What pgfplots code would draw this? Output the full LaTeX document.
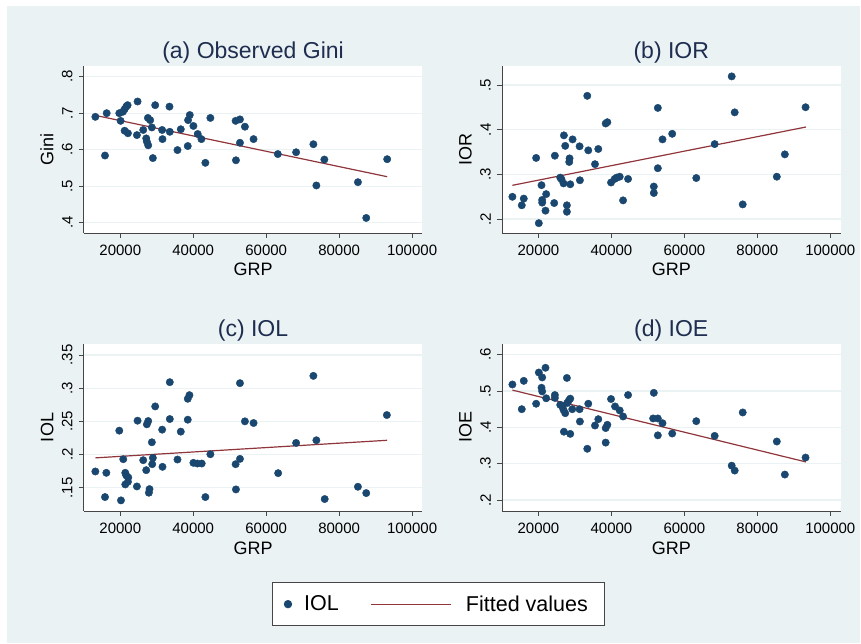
\documentclass[border=0pt]{standalone}
\usepackage{fontspec}
\setmainfont{Liberation Sans}
\usepackage{pgfplots}
\pgfplotsset{compat=1.18}
\definecolor{bg}{RGB}{234,242,243}
\definecolor{gridc}{RGB}{234,242,243}
\definecolor{navy}{RGB}{26,71,111}
\definecolor{maroon}{RGB}{144,53,59}
\definecolor{axc}{RGB}{70,70,70}
\definecolor{titc}{RGB}{30,45,80}
\pgfplotsset{
  panel/.style={
    scale only axis, width=338.5pt, height=167pt,
    xmin=10000, xmax=102800,
    axis x line=bottom, axis y line=left,
    axis line style={-, axc, line width=0.9pt},
    axis background/.style={fill=white},
    tick align=outside, major tick length=5pt,
    tick style={axc, line width=0.9pt},
    xtick={20000,40000,60000,80000,100000},
    xticklabels={20000,40000,60000,80000,100000},
    scaled x ticks=false, scaled y ticks=false,
    ymajorgrids, major grid style={gridc, line width=1.3pt},
    ticklabel style={font=\fontsize{15}{15}\selectfont, text=black},
    xticklabel style={anchor=north, inner sep=0pt},
    xticklabel shift=6.7pt,
    yticklabel style={rotate=90, anchor=south, inner sep=0pt},
    yticklabel shift=6pt,
    xlabel={GRP},
    label style={font=\fontsize{18}{18}\selectfont, text=black},
    xlabel style={at={(axis description cs:0.5,-0.2575)}, anchor=base, inner sep=0pt},
    ylabel style={at={(axis description cs:-0.0901,0.5)}, anchor=base, inner sep=0pt},
    title style={at={(axis description cs:0.5,1.0102)}, anchor=base, inner sep=0pt, font=\fontsize{23}{23}\selectfont, text=titc},
  },
  pts/.style={only marks, mark=*, mark size=3.7pt, draw=navy, fill=navy, mark options={draw=navy, fill=navy}},
  fit/.style={no marks, maroon, line width=1.2pt},
}
\begin{document}
\begin{tikzpicture}
\useasboundingbox (0,0) rectangle (861pt,644pt);
\fill[bg] (7pt,1pt) rectangle (860pt,638pt);

% (a) Observed Gini
\begin{axis}[panel, at={(83.8pt,411pt)}, anchor=south west,
  title={(a) Observed Gini}, ylabel={Gini},
  ymin=0.3718, ymax=0.8293,
  ytick={0.4,0.5,0.6,0.7,0.8}, yticklabels={.4,.5,.6,.7,.8}]
\addplot[pts] coordinates {
(13170,0.690) (15810,0.584) (16270,0.700) (19730,0.700) (20090,0.679)
(20730,0.704) (21190,0.711) (21190,0.652) (21640,0.718) (22010,0.722)
(22100,0.645) (24560,0.640) (24740,0.732) (26290,0.654) (27110,0.631)
(27290,0.622) (27570,0.687) (27660,0.612) (28200,0.681) (28660,0.661)
(28930,0.577) (29570,0.722) (31480,0.654) (31570,0.629) (33490,0.718)
(33580,0.649) (35680,0.599) (36590,0.656) (38500,0.610) (38590,0.681)
(39050,0.695) (40050,0.665) (41230,0.643) (42240,0.629) (43330,0.564)
(44700,0.687) (51620,0.679) (51710,0.571) (52810,0.683) (52810,0.619)
(54170,0.663) (56540,0.629) (63190,0.588) (68210,0.593) (72940,0.615)
(73760,0.502) (75950,0.573) (85150,0.511) (87430,0.413) (93170,0.574)
};
\addplot[fit] coordinates {(13170,0.694) (93170,0.526)};
\end{axis}

% (b) IOR
\begin{axis}[panel, at={(502pt,411pt)}, anchor=south west,
  title={(b) IOR}, ylabel={IOR},
  ymin=0.169, ymax=0.5428,
  ytick={0.2,0.3,0.4,0.5}, yticklabels={.2,.3,.4,.5}]
\addplot[pts] coordinates {
(12850,0.250) (15420,0.231) (15970,0.246) (19360,0.337) (20090,0.191)
(20830,0.276) (21010,0.243) (21010,0.237) (21920,0.219) (22110,0.256)
(24310,0.236) (24490,0.342) (25960,0.293) (26320,0.289) (26870,0.280)
(26970,0.3875) (27330,0.364) (27790,0.231) (27790,0.2165) (28430,0.328)
(28520,0.336) (28710,0.278) (29350,0.3785) (31270,0.363) (31360,0.287)
(33380,0.476) (33650,0.354) (35490,0.323) (36400,0.357) (38420,0.414)
(38880,0.417) (39890,0.282) (40890,0.290) (41440,0.293) (42270,0.295)
(43190,0.242) (44560,0.290) (51620,0.273) (51620,0.2585) (52720,0.449)
(52720,0.314) (54000,0.3785) (56660,0.391) (63260,0.292) (68300,0.368)
(72970,0.5195) (73790,0.439) (75990,0.233) (85340,0.295) (87540,0.345)
(93220,0.4505)
};
\addplot[fit] coordinates {(12850,0.2757) (93310,0.4062)};
\end{axis}

% (c) IOL
\begin{axis}[panel, at={(83.8pt,133pt)}, anchor=south west,
  title={(c) IOL}, ylabel={IOL},
  ymin=0.115, ymax=0.3665,
  ytick={0.15,0.2,0.25,0.3,0.35}, yticklabels={.15,.2,.25,.3,.35},
  legend style={at={(axis description cs:1.0489,-0.5578)}, anchor=center,
    draw=axc, line width=0.9pt, fill=white, inner xsep=11pt, inner ysep=13pt,
    font=\fontsize{21.5}{21.5}\selectfont, text=black,
    nodes={inner sep=0pt},
    /tikz/column 1/.style={column sep=12pt},
    /tikz/column 2/.style={column sep=32pt},
    /tikz/column 3/.style={column sep=14pt}},
  legend columns=2]
\addplot[pts, legend image code/.code={\fill[navy] (3.7pt,0pt) circle (3.7pt);}] coordinates {
(13170,0.1745) (16180,0.1725) (15810,0.136) (19730,0.236) (20190,0.131)
(20820,0.193) (21370,0.1725) (21640,0.1685) (22190,0.1655) (21370,0.155)
(22100,0.159) (24740,0.251) (24560,0.152) (26290,0.1915) (27110,0.1765)
(27290,0.2455) (27660,0.2505) (28020,0.148) (27840,0.1425) (28660,0.2185)
(28750,0.1855) (28930,0.195) (29570,0.2725) (31480,0.2375) (31570,0.1815)
(33580,0.309) (33580,0.2535) (35680,0.1925) (36590,0.2345) (38500,0.284)
(38960,0.2895) (38500,0.2525) (40050,0.1875) (41140,0.1865) (42330,0.1865)
(43330,0.136) (44700,0.2005) (51620,0.1855) (51710,0.1475) (52810,0.1935)
(52810,0.3075) (54170,0.250) (56540,0.2475) (63280,0.172) (68210,0.2175)
(72940,0.3185) (73760,0.2215) (76040,0.133) (85150,0.1515) (87430,0.142)
(93080,0.2595)
};
\addlegendentry{IOL}
\addplot[fit, legend image code/.code={\draw[maroon, line width=1.2pt] (0pt,0pt) -- (80pt,0pt);}] coordinates {(13170,0.195) (93170,0.2215)};
\addlegendentry{Fitted values\kern6pt}
\end{axis}

% (d) IOE
\begin{axis}[panel, at={(502pt,133pt)}, anchor=south west,
  title={(d) IOE}, ylabel={IOE},
  ymin=0.1697, ymax=0.6295,
  ytick={0.2,0.3,0.4,0.5,0.6}, yticklabels={.2,.3,.4,.5,.6}]
\addplot[pts] coordinates {
(12850,0.518) (15970,0.528) (15420,0.450) (19360,0.465) (20090,0.551)
(20830,0.509) (21010,0.499) (21010,0.5375) (21920,0.564) (22110,0.480)
(24490,0.489) (24490,0.481) (25960,0.462) (26510,0.457) (26870,0.448)
(26970,0.388) (27330,0.439) (27790,0.536) (27880,0.467) (28340,0.474)
(28710,0.479) (28710,0.382) (29260,0.450) (31270,0.450) (31360,0.416)
(33380,0.341) (33650,0.465) (35490,0.405) (36400,0.4225) (38420,0.398)
(38880,0.407) (38420,0.358) (39890,0.478) (40990,0.4575) (42270,0.4465)
(43190,0.430) (44560,0.489) (51430,0.4245) (51620,0.495) (52720,0.4245)
(52720,0.378) (54000,0.4115) (56660,0.383) (63260,0.417) (68300,0.3765)
(72970,0.2945) (73790,0.281) (75990,0.441) (85340,0.361) (87540,0.270)
(93220,0.3168)
};
\addplot[fit] coordinates {(12850,0.5025) (93310,0.3048)};
\end{axis}
\end{tikzpicture}
\end{document}
